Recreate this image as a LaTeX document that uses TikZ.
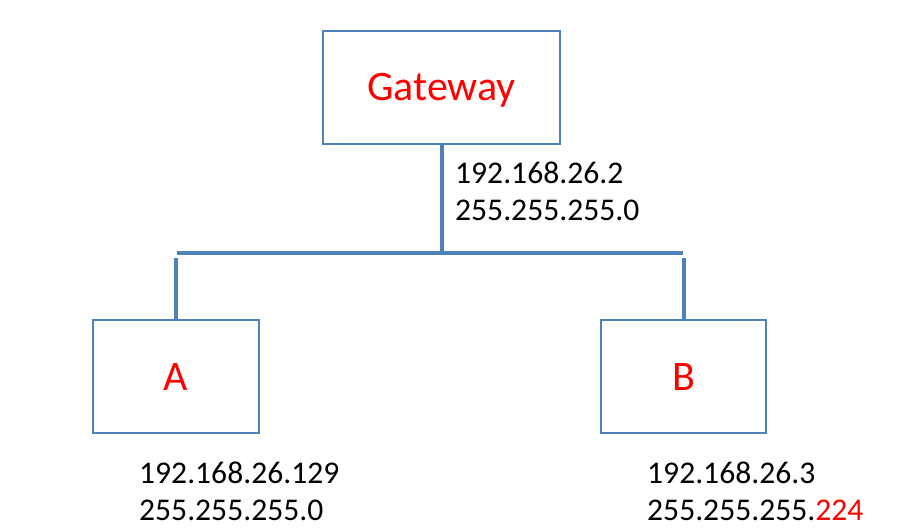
\documentclass[tikz,border=0pt]{standalone}
\usepackage{fontspec}
\setmainfont{Carlito}
\usetikzlibrary{positioning}
\usetikzlibrary{calc}
\definecolor{boxblue}{HTML}{4F81BD}
\tikzset{%
    hostbox/.style={draw=boxblue, line width=1.5pt, text=red,
        font={\fontsize{42}{42}\selectfont}, inner sep=0pt,
        text height=27pt, text depth=0pt},
    wire/.style={draw=boxblue, line width=4pt},
    addr/.style={font={\fontsize{31.6}{37}\selectfont}, align=left,
        inner sep=0pt, anchor=north west},
}

\begin{document}
\begin{tikzpicture}[x=1pt,y=-1pt]
\useasboundingbox (0,0) rectangle (902,532);
\node (gw) [hostbox, minimum width=237pt, minimum height=113pt] at (441.5,87.5) {Gateway};
\node (a) [hostbox, minimum width=166pt, minimum height=113pt] at (176,376.5) {A};
\node (b) [hostbox, minimum width=165pt, minimum height=113pt] at (683.5,376.5) {B};
\coordinate (busl) at (177,253);
\coordinate (busr) at (683,253);
\coordinate (tapa) at (176,258);
\coordinate (tapb) at (683.5,258);
\draw [wire] (gw.south) -- (gw.south |- busl);
\draw [wire] (busl) -- (busr);
\draw [wire] (tapa) -- (a.north);
\draw [wire] (tapb) -- (b.north);
\node (gwip) [addr] at (455,162) {192.168.26.2\\255.255.255.0};
\node (aip) [addr] at (139,462) {192.168.26.129\\255.255.255.0};
\node (bip) [addr] at (647,462) {192.168.26.3\\255.255.255.\textcolor{red}{224}};
\end{tikzpicture}
\end{document}
